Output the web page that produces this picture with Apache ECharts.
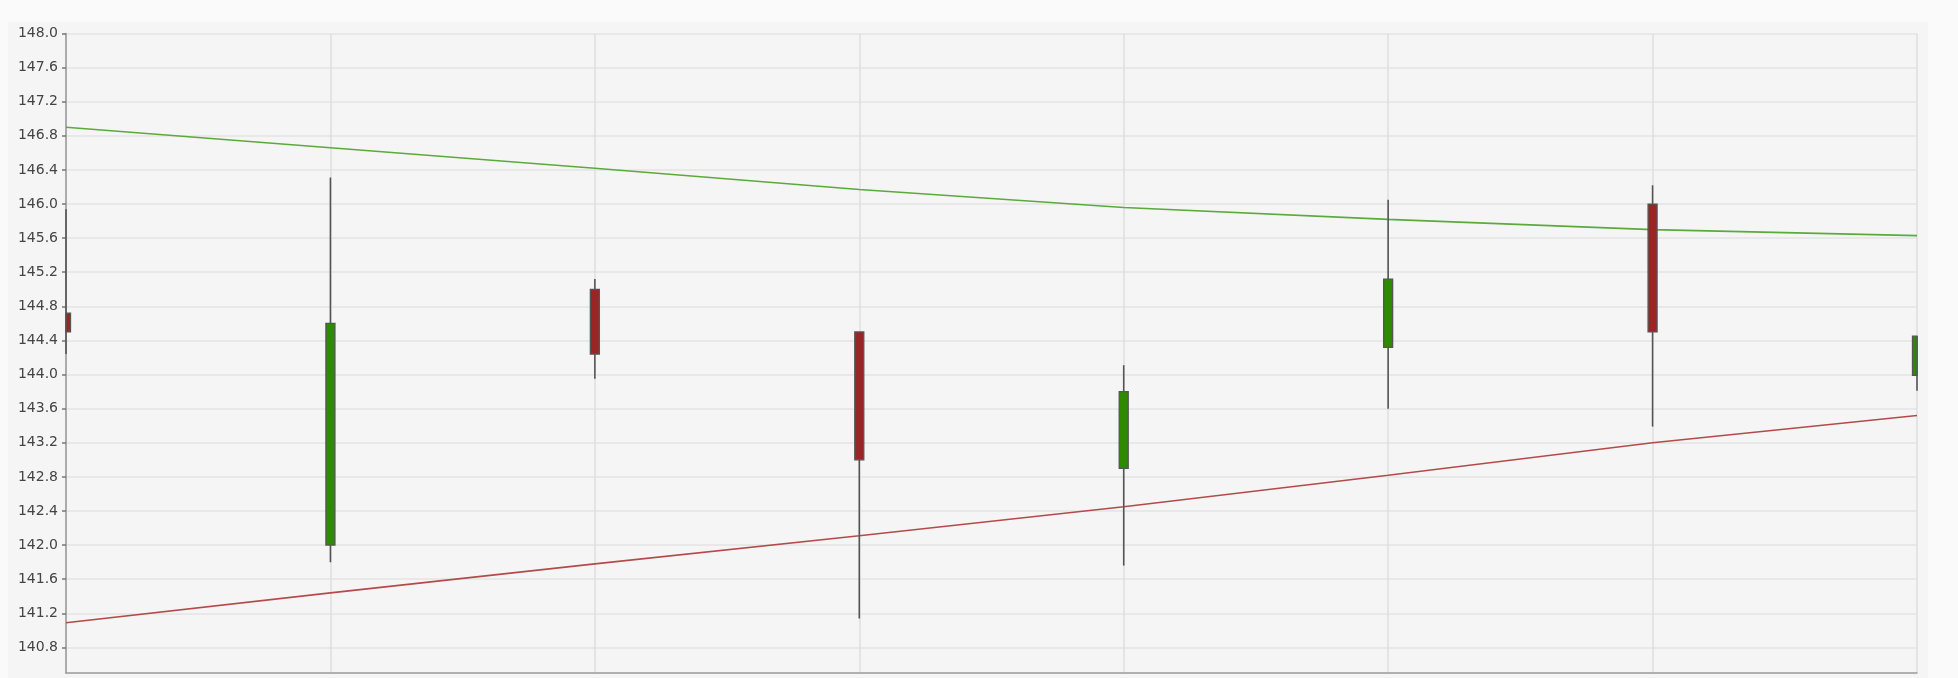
<!DOCTYPE html>
<html>
<head>
<meta charset="utf-8">
<script src="https://cdn.jsdelivr.net/npm/echarts@6/dist/echarts.min.js"></script>
<style>
  html, body { margin: 0; padding: 0; background: #fafafa; width: 1958px; height: 678px; overflow: hidden; }
  #panel { position: absolute; left: 8px; top: 22px; width: 1920px; height: 656px; background: #f5f5f5; }
  #chart { width: 1920px; height: 656px; }
</style>
</head>
<body>
<div id="panel"><div id="chart"></div></div>
<script>
// Categories (one per candle; no visible labels in the reference)
const categories = ['1', '2', '3', '4', '5', '6', '7', '8'];

// Candles: [open, close, low, high]
const ohlc = [
  [144.72, 144.50, 144.24, 145.94],
  [142.00, 144.60, 141.80, 146.31],
  [145.00, 144.24, 143.95, 145.12],
  [144.50, 143.00, 141.14, 144.50],
  [142.90, 143.80, 141.76, 144.11],
  [144.32, 145.12, 143.60, 146.05],
  [146.00, 144.50, 143.39, 146.22],
  [143.99, 144.45, 143.81, 144.45]
];

// Upper (green) and lower (red) channel lines
const upperLine = [146.90, 146.66, 146.42, 146.17, 145.96, 145.82, 145.70, 145.63];
const lowerLine = [141.09, 141.44, 141.78, 142.11, 142.45, 142.82, 143.20, 143.52];

// Y tick values
const yTicks = [140.8, 141.2, 141.6, 142.0, 142.4, 142.8, 143.2, 143.6, 144.0, 144.4,
                144.8, 145.2, 145.6, 146.0, 146.4, 146.8, 147.2, 147.6, 148.0];
const yMin = 140.5;
const yMax = 148.0;

const UP_COLOR = '#2e8b00';
const DOWN_COLOR = '#9a2525';
const EDGE_COLOR = '#555555';
const BODY_WIDTH = 9;

function renderCandle(params, api) {
  const idx = api.value(0);
  const open = api.value(1), close = api.value(2), low = api.value(3), high = api.value(4);
  const pOpen = api.coord([idx, open]);
  const pClose = api.coord([idx, close]);
  const pLow = api.coord([idx, low]);
  const pHigh = api.coord([idx, high]);
  const cs = params.coordSys;
  const clipArea = { x: cs.x, y: cs.y, width: cs.width, height: cs.height };
  const x = pOpen[0];
  const top = Math.min(pOpen[1], pClose[1]);
  const bodyH = Math.max(Math.abs(pOpen[1] - pClose[1]), 1);
  const body = echarts.graphic.clipRectByRect(
    { x: x - BODY_WIDTH / 2, y: top, width: BODY_WIDTH, height: bodyH }, clipArea);
  const children = [{
    type: 'line',
    shape: { x1: x, y1: pHigh[1], x2: x, y2: pLow[1] },
    style: { stroke: EDGE_COLOR, lineWidth: 1.6 }
  }];
  if (body) {
    children.push({
      type: 'rect',
      shape: body,
      style: { fill: close >= open ? UP_COLOR : DOWN_COLOR, stroke: EDGE_COLOR, lineWidth: 1.3 }
    });
  }
  return { type: 'group', children: children };
}

const chart = echarts.init(document.getElementById('chart'), null, { renderer: 'canvas' });
chart.setOption({
  animation: false,
  backgroundColor: '#f5f5f5',
  grid: { left: 58, right: 11, top: 11.5, bottom: 5, containLabel: false },
  xAxis: {
    type: 'category',
    data: categories,
    boundaryGap: false,
    axisLine: { show: true, lineStyle: { color: '#999999', width: 1.5 } },
    axisTick: { show: false },
    axisLabel: { show: false },
    splitLine: { show: true, lineStyle: { color: '#dedede', width: 1.5 } }
  },
  yAxis: {
    type: 'value',
    min: yMin,
    max: yMax,
    axisLine: { show: true, lineStyle: { color: '#999999', width: 1.5 } },
    axisTick: { show: true, length: 4, customValues: yTicks, lineStyle: { color: '#777', width: 1.5 } },
    axisLabel: {
      customValues: yTicks,
      color: '#444',
      fontFamily: 'DejaVu Sans',
      fontSize: 14,
      margin: 8,
      formatter: function (v) { return Number(v).toFixed(1); }
    },
    splitLine: { show: true, lineStyle: { color: '#e3e3e3', width: 1.5 } }
  },
  series: [
    {
      type: 'line',
      data: upperLine,
      symbol: 'none',
      lineStyle: { color: '#5aab3a', width: 1.6 },
      z: 3
    },
    {
      type: 'line',
      data: lowerLine,
      symbol: 'none',
      lineStyle: { color: '#b54a4a', width: 1.6 },
      z: 3
    },
    {
      type: 'custom',
      renderItem: renderCandle,
      data: ohlc.map(function (d, i) { return [i].concat(d); }),
      encode: { x: 0, y: [1, 2, 3, 4] },
      z: 4
    }
  ]
});
</script>
</body>
</html>
